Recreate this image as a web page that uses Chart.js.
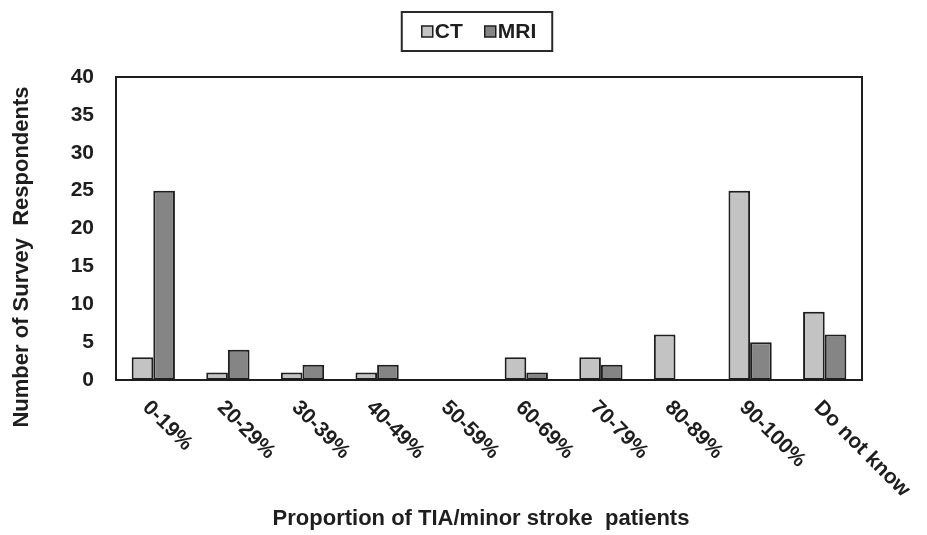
<!DOCTYPE html>
<html>
<head>
<meta charset="utf-8">
<script src="https://cdn.jsdelivr.net/npm/chart.js@4"></script>
<style>
  body { margin: 0; background: #fff; }
</style>
</head>
<body>
<canvas id="chart" width="927" height="535"></canvas>
<script>
const categories = ['0-19%', '20-29%', '30-39%', '40-49%', '50-59%', '60-69%', '70-79%', '80-89%', '90-100%', 'Do not know'];
const ctValues = [3, 1, 1, 1, 0, 3, 3, 6, 25, 9];
const mriValues = [25, 4, 2, 2, 0, 1, 2, 0, 5, 6];
const yTicks = [0, 5, 10, 15, 20, 25, 30, 35, 40];

const FONT = '"Liberation Sans", Arial, sans-serif';
const INK = '#1e1e1e';

// frame, rotated category labels, axis titles and the boxed legend
const decorations = {
  id: 'decorations',
  afterDraw(chart) {
    const ctx = chart.ctx;
    const area = chart.chartArea;
    const xScale = chart.scales.x;

    ctx.save();
    ctx.strokeStyle = INK;
    ctx.lineWidth = 2;
    ctx.strokeRect(area.left, area.top, area.right - area.left, area.bottom - area.top);

    ctx.fillStyle = INK;
    ctx.font = 'bold 21px ' + FONT;
    ctx.textAlign = 'left';
    ctx.textBaseline = 'top';
    chart.data.labels.forEach((label, i) => {
      const x = xScale.getPixelForTick(i);
      ctx.save();
      ctx.translate(x, area.bottom + 17);
      ctx.rotate(Math.PI / 4);
      ctx.fillText(label, 0, 0);
      ctx.restore();
    });

    ctx.font = 'bold 22px ' + FONT;
    ctx.textAlign = 'center';
    ctx.textBaseline = 'middle';
    ctx.fillText('Proportion of TIA/minor stroke  patients', (area.left + area.right) / 2 - 8, 519);

    ctx.save();
    ctx.translate(22, 257);
    ctx.rotate(-Math.PI / 2);
    ctx.fillText('Number of Survey  Respondents', 0, 0);
    ctx.restore();

    // legend
    ctx.font = 'bold 21px ' + FONT;
    ctx.textAlign = 'left';
    const box = 11, gap = 2, itemGap = 22, padX = 20, padR = 16;
    const items = chart.data.datasets.map(ds => ({
      label: ds.label, color: ds.backgroundColor, w: ctx.measureText(ds.label).width
    }));
    let total = padX + padR;
    items.forEach((it, i) => { total += box + gap + it.w + (i < items.length - 1 ? itemGap : 0); });
    const left = (area.left + area.right) / 2 - 12 - total / 2;
    const top = 12, height = 39;
    ctx.strokeStyle = '#2a2a2a';
    ctx.lineWidth = 2;
    ctx.strokeRect(left, top, total, height);
    let cx = left + padX;
    const cy = top + height / 2;
    items.forEach(it => {
      ctx.fillStyle = it.color;
      ctx.fillRect(cx, cy - box / 2, box, box);
      ctx.strokeStyle = INK;
      ctx.lineWidth = 1.5;
      ctx.strokeRect(cx, cy - box / 2, box, box);
      ctx.fillStyle = INK;
      ctx.fillText(it.label, cx + box + gap, cy + 1);
      cx += box + gap + it.w + itemGap;
    });
    ctx.restore();
  }
};

new Chart(document.getElementById('chart'), {
  type: 'bar',
  data: {
    labels: categories,
    datasets: [
      { label: 'CT', data: ctValues, backgroundColor: '#c3c3c3', borderColor: INK, borderWidth: 2 },
      { label: 'MRI', data: mriValues, backgroundColor: '#858585', borderColor: INK, borderWidth: 2 }
    ]
  },
  options: {
    responsive: false,
    animation: false,
    layout: { padding: { top: 77, right: 65, bottom: 0, left: 0 } },
    datasets: { bar: { categoryPercentage: 0.58, barPercentage: 1.0, borderSkipped: false } },
    plugins: { legend: { display: false }, tooltip: { enabled: false } },
    scales: {
      x: {
        grid: { display: false, drawTicks: false },
        border: { display: false },
        ticks: { display: false },
        afterFit: scale => { scale.height = 155; }
      },
      y: {
        min: 0,
        max: 40,
        afterBuildTicks: scale => { scale.ticks = yTicks.map(v => ({ value: v })); },
        grid: { display: false, drawTicks: false },
        border: { display: false },
        ticks: { color: INK, padding: 22, font: { family: FONT, size: 21, weight: 'bold' } },
        afterFit: scale => { scale.width = 116; }
      }
    }
  },
  plugins: [decorations]
});
</script>
</body>
</html>
